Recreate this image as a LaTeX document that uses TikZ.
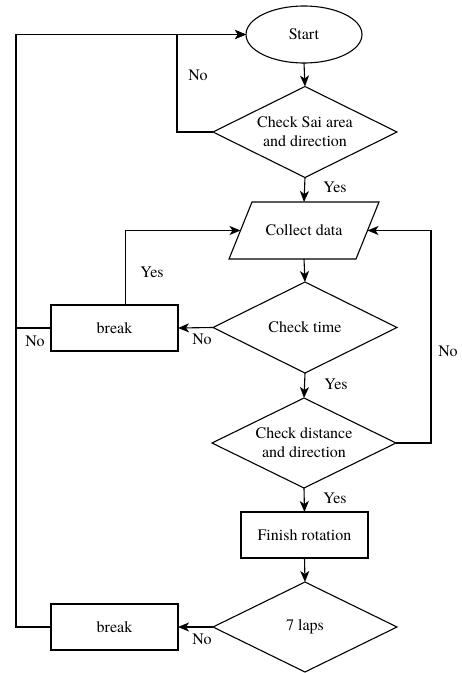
\documentclass[tikz,border=0pt]{standalone}
\usepackage{fontspec}
\setmainfont{TeX Gyre Termes}
\usetikzlibrary{shapes.geometric,arrows.meta,calc}
\begin{document}
\begin{tikzpicture}[x=1pt,y=-1pt,
  every node/.style={font=\fontsize{16}{19}\selectfont, inner sep=0pt, outer sep=0pt},
  shp/.style={draw, line width=1.1pt, align=center},
  dec/.style={shp, diamond, aspect=2.02, minimum width=184pt, minimum height=91pt},
  boxn/.style={shp, rectangle, minimum width=127pt, minimum height=46pt},
  lbl/.style={},
  conn/.style={line width=1.1pt},
  arr/.style={conn, -{Stealth[length=11pt,width=9pt,inset=3pt]}}
]
\useasboundingbox (0,0) rectangle (462,673);
\node[shp, ellipse, minimum width=116pt, minimum height=57pt] (start) at (304,34.5) {Start};
\node[dec] (d1) at (305,132) {Check Sai area\\and direction};
\node[minimum width=127pt, minimum height=57pt] (collect) at (304,230.5) {Collect data};
\draw[line width=1.1pt] ($(collect.north west)+(11.5,0)$) -- ($(collect.north east)+(11.5,0)$) -- ($(collect.south east)+(-11.5,0)$) -- ($(collect.south west)+(-11.5,0)$) -- cycle;
\node[dec] (d2) at (305,327.5) {Check time};
\node[boxn] (brk1) at (114.5,328) {break};
\node[dec, minimum height=90pt] (d3) at (304,443) {Check distance\\and direction};
\node[boxn] (finish) at (304.5,535) {Finish rotation};
\node[dec, minimum height=90pt] (d4) at (305,627) {7 laps};
\node[boxn] (brk2) at (114.5,627) {break};

\coordinate (c0) at (16,34.5);
\coordinate (c1) at (177,34.5);

\draw[arr] (start.south) -- (d1.north);
\draw[arr] (d1.west) -| (c1) -- (start.west);
\draw[arr] (d1.south) -- (collect.north);
\draw[arr] (collect.south) -- (d2.north);
\draw[arr] (d2.west) -- (brk1.east);
\draw[arr] ([xshift=11pt]brk1.north) |- (collect.west);
\draw[conn] (brk1.west) -- (brk1.west -| c0);
\draw[arr] (d2.south) -- (d3.north);
\draw[arr] (d3.east) -- ++(35,0) |- (collect.east);
\draw[arr] (d3.south) -- (finish.north);
\draw[arr] (finish.south) -- (d4.north);
\draw[arr] (d4.west) -- (brk2.east);
\draw[arr] (brk2.west) -| (c0) -- (start.west);

\node[lbl] (l1) at (198,75) {No};
\node[lbl] (l2) at (335,187) {Yes};
\node[lbl] (l3) at (152,272) {Yes};
\node[lbl] (l4) at (202,339) {No};
\node[lbl] (l5) at (35,341) {No};
\node[lbl] (l6) at (336,384) {Yes};
\node[lbl] (l7) at (448,351) {No};
\node[lbl] (l8) at (335,498) {Yes};
\node[lbl] (l9) at (202,639) {No};
\end{tikzpicture}
\end{document}
